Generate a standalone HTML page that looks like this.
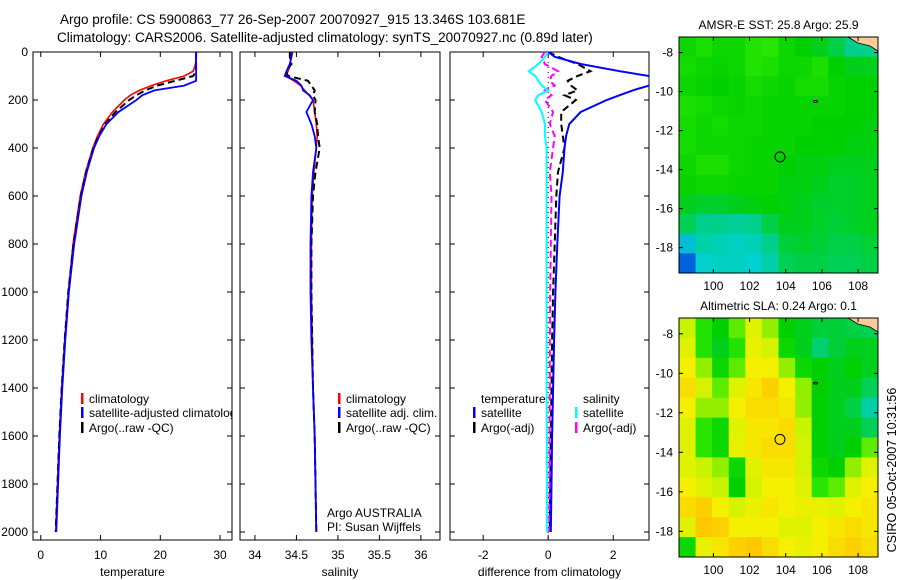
<!DOCTYPE html>
<html><head><meta charset="utf-8"><style>
html,body{margin:0;padding:0;background:#fff;}
svg{display:block;font-family:"Liberation Sans",Arial,sans-serif;}
</style></head><body>
<svg id="fig" width="900" height="580" viewBox="0 0 900 580">
<text x="60" y="24" font-size="13.5">Argo profile: CS 5900863_77 26-Sep-2007 20070927_915 13.346S 103.681E</text>
<text x="57" y="42" font-size="13.5">Climatology: CARS2006. Satellite-adjusted climatology: synTS_20070927.nc (0.89d later)</text>
<text transform="translate(896,470) rotate(-90)" text-anchor="middle" font-size="12.5">CSIRO 05-Oct-2007 10:31:56</text>
</svg>
<script>
const depths=[0,20,50,80,100,120,140,160,180,200,250,300,350,400,500,600,800,1000,1200,1400,1600,1800,2000];
const tempClim=[26,26,25.9,25.5,24,21,18.5,16.5,15,14,12,10.5,9.5,8.7,7.5,6.6,5.4,4.6,4.0,3.5,3.1,2.8,2.5];
const tempSat=[26,26,26,26,26,26,24,19,17,16,13,11,9.8,8.9,7.7,6.8,5.6,4.7,4.1,3.6,3.2,2.9,2.6];
const tempArgo=[26,26,26,26,25.5,22.5,19.5,17.5,16,14.8,12.5,10.8,9.7,8.8,7.6,6.7,5.5,4.6,4.0,3.5,3.1,2.8,2.5];
const salClim=[34.44,34.43,34.43,34.4,34.37,34.47,34.55,34.6,34.65,34.7,34.72,34.74,34.75,34.74,34.71,34.69,34.68,34.68,34.69,34.7,34.72,34.73,34.74];
const salSat=[34.45,34.44,34.42,34.38,34.36,34.5,34.56,34.58,34.66,34.7,34.62,34.68,34.72,34.74,34.7,34.68,34.67,34.67,34.68,34.7,34.72,34.73,34.74];
const salArgo=[34.42,34.42,34.44,34.37,34.4,34.64,34.68,34.72,34.7,34.73,34.72,34.75,34.76,34.78,34.73,34.7,34.68,34.68,34.69,34.7,34.72,34.73,34.74];
const dTempSat=[0,0.2,1.0,2.2,3.1,3.5,3.1,2.6,2.2,1.8,1.0,0.65,0.55,0.5,0.45,0.35,0.28,0.22,0.18,0.15,0.12,0.1,0.08];
const dTempArgo=[0,0.3,0.9,1.3,0.9,0.6,0.7,0.9,0.5,0.85,0.4,0.4,0.45,0.5,0.3,0.25,0.2,0.15,0.12,0.1,0.08,0.06,0.05];
const dSalSat=[0,-0.1,-0.3,-0.6,-0.4,-0.3,-0.2,0,-0.3,-0.4,-0.2,-0.1,-0.1,-0.05,-0.05,-0.05,-0.05,-0.05,-0.05,-0.05,-0.04,-0.04,-0.04];
const dSalArgo=[-0.1,-0.2,-0.1,0.3,0.1,0.05,0.2,-0.1,0.1,-0.1,0.15,0.05,0.2,0.15,0.05,0.1,0.08,0.06,0.05,0.05,0.04,0.04,0.03];
const depthTicks=[0,200,400,600,800,1000,1200,1400,1600,1800,2000];
const tempTicks=[0,10,20,30];
const salTicks=[34,34.5,35,35.5,36];
const diffTicks=[-2,0,2];
const sstGrid=[
[.52,.54,.52,.52,.55,.56,.52,.50,.48,.45,.40,.40],
[.53,.52,.51,.52,.55,.54,.52,.52,.54,.50,.48,.48],
[.52,.51,.50,.51,.53,.52,.51,.53,.53,.51,.50,.50],
[.54,.53,.52,.51,.52,.51,.51,.51,.51,.51,.50,.50],
[.53,.52,.53,.52,.52,.51,.51,.51,.50,.50,.50,.49],
[.53,.52,.52,.52,.51,.51,.51,.50,.50,.50,.49,.49],
[.52,.54,.54,.52,.51,.51,.50,.49,.49,.48,.48,.48],
[.51,.52,.52,.51,.51,.51,.49,.49,.48,.47,.47,.48],
[.48,.47,.47,.48,.49,.50,.49,.48,.47,.47,.47,.48],
[.44,.40,.40,.39,.40,.45,.48,.48,.47,.46,.47,.48],
[.33,.38,.37,.36,.37,.40,.46,.47,.46,.45,.45,.46],
[.22,.35,.36,.36,.35,.38,.44,.45,.45,.44,.44,.45]];
const slaGrid=[
[.62,.55,.50,.58,.66,.60,.50,.48,.46,.46,.45,.44],
[.66,.55,.48,.55,.68,.64,.52,.48,.42,.46,.48,.48],
[.70,.60,.52,.58,.70,.70,.60,.52,.50,.48,.50,.48],
[.74,.64,.58,.66,.72,.76,.70,.60,.50,.48,.48,.44],
[.70,.60,.60,.70,.74,.74,.72,.60,.50,.48,.45,.38],
[.66,.56,.52,.66,.72,.72,.74,.62,.50,.48,.48,.44],
[.66,.56,.52,.68,.72,.74,.74,.64,.50,.48,.50,.58],
[.66,.62,.60,.52,.66,.72,.72,.64,.52,.50,.60,.66],
[.70,.66,.62,.50,.64,.70,.70,.66,.56,.58,.66,.70],
[.74,.76,.70,.64,.68,.72,.70,.68,.68,.66,.70,.72],
[.66,.78,.76,.70,.70,.70,.66,.66,.70,.72,.74,.72],
[.52,.68,.72,.76,.78,.74,.70,.68,.70,.74,.76,.74]];
const lonTicks=[100,102,104,106,108];
const latTicks=[-8,-10,-12,-14,-16,-18];
const argoLon=103.681, argoLat=-13.346;

const NS='http://www.w3.org/2000/svg';
const svg=document.getElementById('fig');
function mk(tag,attrs,parent){const e=document.createElementNS(NS,tag);for(const k in attrs)e.setAttribute(k,attrs[k]);(parent||svg).appendChild(e);return e;}
const top0=52, yPerM=0.24, bot=540;
function yD(d){return top0+d*yPerM;}

function panel(name,x0,x1,vmin,vmax,ticks,label,showY){
  const g=mk('g',{});
  
  
  const sx=v=>x0+(v-vmin)/(vmax-vmin)*(x1-x0);
  const clip=mk('clipPath',{id:'clip-'+name},g);
  mk('rect',{x:x0,y:top0,width:x1-x0,height:bot-top0},clip);
  depthTicks.forEach(d=>{const y=yD(d);
    mk('line',{x1:x0,y1:y,x2:x0+5,y2:y,stroke:'#000'},g);
    mk('line',{x1:x1,y1:y,x2:x1-5,y2:y,stroke:'#000'},g);
    if(showY){const t=mk('text',{x:x0-5,y:y+4,'text-anchor':'end','font-size':12},g);t.textContent=d;
      
      }
  });
  ticks.forEach(v=>{const x=sx(v);
    mk('line',{x1:x,y1:bot,x2:x,y2:bot-5,stroke:'#000'},g);
    mk('line',{x1:x,y1:top0,x2:x,y2:top0+5,stroke:'#000'},g);
    const t=mk('text',{x:x,y:bot+19,'text-anchor':'middle','font-size':12},g);t.textContent=v;
    
    
  });
  const lt=mk('text',{x:(x0+x1)/2,y:576,'text-anchor':'middle','font-size':12},g);lt.textContent=label;
  
  
  mk('rect',{x:x0,y:top0,width:x1-x0,height:bot-top0,fill:'none',stroke:'#000'},g);
  return {g,sx,clipId:'clip-'+name};
}
function series(p,name,vals,color,w,dash){
  const pts=vals.map((v,i)=>p.sx(v).toFixed(1)+','+yD(depths[i]).toFixed(1)).join(' ');
  const a={points:pts,fill:'none',stroke:color,'stroke-width':w,'clip-path':'url(#'+p.clipId+')'};
  if(dash)a['stroke-dasharray']=dash;
  const e=mk('polyline',a,p.g);
  
  
}
function legItem(p,x,y,color,txt,name){
  mk('rect',{x:x,y:y-10,width:2.5,height:11,fill:color},p.g);
  if(txt){const t=mk('text',{x:x+8,y:y,'font-size':12,'clip-path':'url(#'+p.clipId+')'},p.g);t.textContent=txt;
  
  }
}

const p1=panel('temperature-panel',33,232,-1.3,32,tempTicks,'temperature',true);
series(p1,'temp-climatology-line',tempClim,'#ff0000',1.6);
series(p1,'temp-argo-line',tempArgo,'#000',2,'7,4');
series(p1,'temp-satellite-line',tempSat,'#0000ff',1.8);
legItem(p1,81,403,'#f00','climatology','legend-climatology');
legItem(p1,81,417,'#00f','satellite-adjusted climatology','legend-satellite');
legItem(p1,81,432,'#000','Argo(..raw -QC)','legend-argo');

const p2=panel('salinity-panel',240,440,33.82,36.23,salTicks,'salinity',false);
series(p2,'sal-climatology-line',salClim,'#ff0000',1.6);
series(p2,'sal-argo-line',salArgo,'#000',2,'7,4');
series(p2,'sal-satellite-line',salSat,'#0000ff',1.8);
legItem(p2,338,403,'#f00','climatology','legend-climatology');
legItem(p2,338,417,'#00f','satellite adj. clim.','legend-satellite');
legItem(p2,338,432,'#000','Argo(..raw -QC)','legend-argo');
[['Argo AUSTRALIA',517],['PI: Susan Wijffels',531]].forEach(([s,y])=>{const t=mk('text',{x:327,y:y,'font-size':12},p2.g);t.textContent=s;
  
  });

const p3=panel('difference-panel',450,649,-3.02,3.1,diffTicks,'difference from climatology',false);
mk('line',{x1:p3.sx(0),y1:top0,x2:p3.sx(0),y2:bot,stroke:'#000','stroke-dasharray':'1,4','stroke-width':1},p3.g);
series(p3,'diff-temp-argo-line',dTempArgo,'#000',2,'7,4');
series(p3,'diff-sal-argo-line',dSalArgo,'#ff00ff',2,'7,4');
series(p3,'diff-sal-satellite-line',dSalSat,'#00ffff',2);
series(p3,'diff-temp-satellite-line',dTempSat,'#0000ff',2);
[['temperature',481],['salinity',583]].forEach(([s,x])=>{const t=mk('text',{x:x,y:403,'font-size':12},p3.g);t.textContent=s;
  
  });
legItem(p3,473,417,'#00f','satellite','legend-temp-satellite');
legItem(p3,473,432,'#000','Argo(-adj)','legend-temp-argo');
legItem(p3,575,417,'#0ff','satellite','legend-sal-satellite');
legItem(p3,575,432,'#f0f','Argo(-adj)','legend-sal-argo');

const stops=[[0.2,[0,80,224]],[0.35,[0,208,208]],[0.5,[0,208,0]],[0.56,[40,230,0]],[0.62,[200,244,0]],[0.7,[245,240,0]],[0.8,[255,190,0]]];
function cmap(v){if(v<=stops[0][0])return 'rgb('+stops[0][1]+')';
  for(let i=1;i<stops.length;i++){if(v<=stops[i][0]){const a=stops[i-1],b=stops[i],t=(v-a[0])/(b[0]-a[0]);
    return 'rgb('+a[1].map((c,k)=>Math.round(c+(b[1][k]-c)*t)).join(',')+')';}}
  return 'rgb('+stops[stops.length-1][1]+')';}
function mapPanel(name,grid,x0,y0,x1,y1,title){
  const g=mk('g',{});
  
  
  const lon0=98.1,lon1=109.1,lat0=-7.2,lat1=-19.3;
  const sx=v=>x0+(v-lon0)/(lon1-lon0)*(x1-x0);
  const sy=v=>y0+(v-lat0)/(lat1-lat0)*(y1-y0);
  const rows=grid.length,cols=grid[0].length,cw=(x1-x0)/cols,ch=(y1-y0)/rows;
  grid.forEach((r,i)=>r.forEach((v,j)=>{const c=mk('rect',{x:x0+j*cw,y:y0+i*ch,width:cw+0.5,height:ch+0.5,fill:cmap(v)},g);
    
    }));
  const land=mk('polygon',{points:`${x1-30},${y0} ${x1},${y0} ${x1},${y0+14} ${x1-8},${y0+9} ${x1-20},${y0+6}`,fill:'#ffcc99',stroke:'#000','stroke-width':0.8},g);
  
  
  const isl=mk('ellipse',{cx:sx(105.65),cy:sy(-10.5),rx:2,ry:1,fill:'none',stroke:'#000'},g);
  
  
  const m=mk('circle',{cx:sx(argoLon),cy:sy(argoLat),r:5,fill:'none',stroke:'#000','stroke-width':1},g);
  
  
  lonTicks.forEach(v=>{const x=sx(v);
    mk('line',{x1:x,y1:y1,x2:x,y2:y1-4,stroke:'#000'},g);mk('line',{x1:x,y1:y0,x2:x,y2:y0+4,stroke:'#000'},g);
    const t=mk('text',{x:x,y:y1+17,'text-anchor':'middle','font-size':12},g);t.textContent=v;
    
    });
  latTicks.forEach(v=>{const y=sy(v);
    mk('line',{x1:x0,y1:y,x2:x0+4,y2:y,stroke:'#000'},g);mk('line',{x1:x1,y1:y,x2:x1-4,y2:y,stroke:'#000'},g);
    const t=mk('text',{x:x0-6,y:y+4,'text-anchor':'end','font-size':12},g);t.textContent=v;
    
    });
  mk('rect',{x:x0,y:y0,width:x1-x0,height:y1-y0,fill:'none',stroke:'#000'},g);
  const tt=mk('text',{x:(x0+x1)/2,y:y0-8,'text-anchor':'middle','font-size':12},g);tt.textContent=title;
  
  
}
mapPanel('sst-map',sstGrid,679,37,878,273,'AMSR-E SST: 25.8 Argo: 25.9');
mapPanel('sla-map',slaGrid,679,318,878,557,'Altimetric SLA: 0.24 Argo: 0.1');
</script>
</body></html>
